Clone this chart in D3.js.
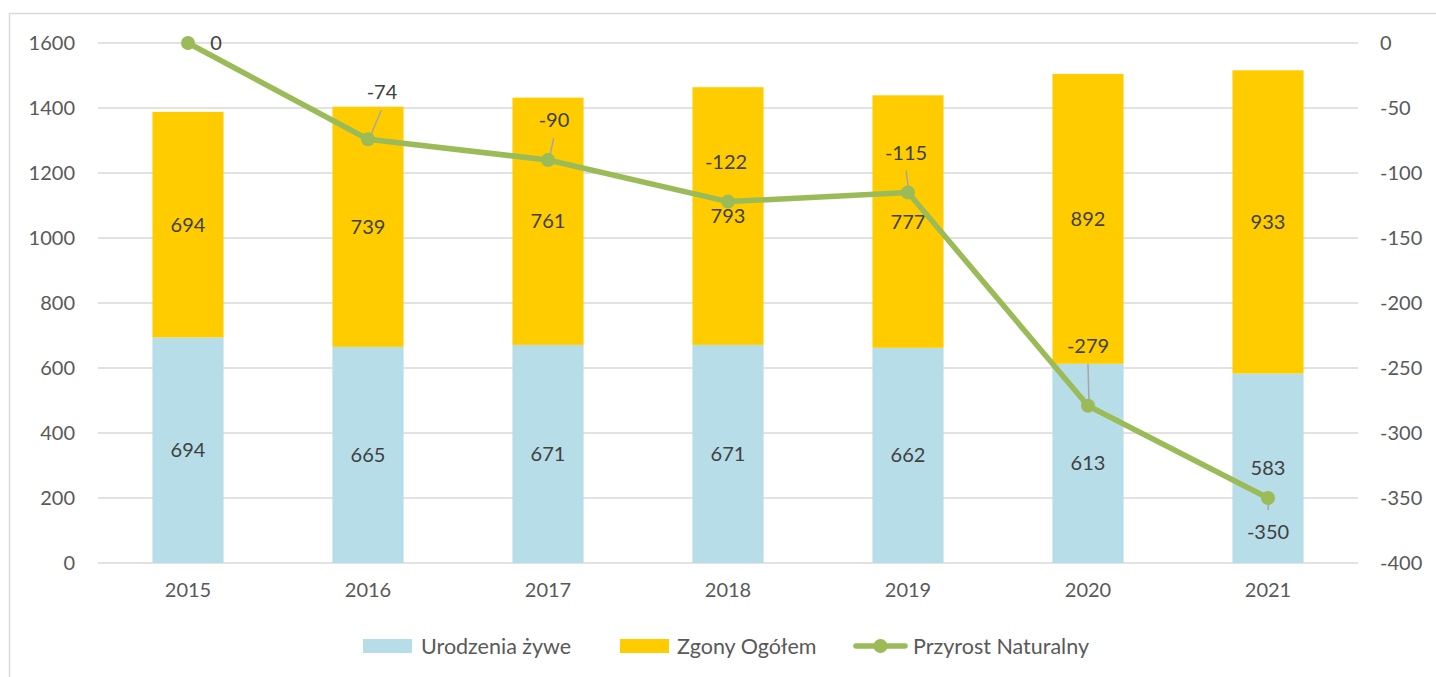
<!DOCTYPE html>
<html>
<head>
<meta charset="utf-8">
<script src="https://cdn.jsdelivr.net/npm/d3@7"></script>
<style>
  body { margin: 0; background: #fff; }
  svg text { font-family: Lato, 'Open Sans', sans-serif; }
</style>
</head>
<body>
<div id="chart"></div>
<script>
const years = ['2015', '2016', '2017', '2018', '2019', '2020', '2021']
const births = [694, 665, 671, 671, 662, 613, 583]
const deaths = [694, 739, 761, 793, 777, 892, 933]
const growth = [0, -74, -90, -122, -115, -279, -350]
const leftTicks = [0, 200, 400, 600, 800, 1000, 1200, 1400, 1600]
const rightTicks = [0, -50, -100, -150, -200, -250, -300, -350, -400]
const seriesNames = ['Urodzenia żywe', 'Zgony Ogółem', 'Przyrost Naturalny']

// label offsets for the line labels (dx, dy from point), Excel-style placement
const growthLabelPos = [
  { dx: 28, dy: 0, lead: false },
  { dx: 14, dy: -47, lead: true },
  { dx: 6, dy: -40, lead: true },
  { dx: -2, dy: -40, lead: false },
  { dx: -2, dy: -40, lead: true },
  { dx: 0, dy: -60, lead: true },
  { dx: 0, dy: 34, lead: true }
]

const W = 1436
const H = 677
const margin = { top: 43, right: 78, bottom: 114, left: 98 }
const width = W - margin.left - margin.right
const height = H - margin.top - margin.bottom

const colors = { births: '#B7DDE8', deaths: '#FFCC00', line: '#9BBB59', grid: '#D9D9D9' }
const fmt = d => String(d)

const root = d3.select('#chart').append('svg').attr('width', W).attr('height', H)

root.append('rect')
  .attr('x', 9.5).attr('y', 13.5)
  .attr('width', W + 20).attr('height', H + 20)
  .attr('fill', 'none').attr('stroke', '#D9D9D9').attr('stroke-width', 1.5)

const svg = root.append('g').attr('transform', `translate(${margin.left},${margin.top})`)

const x = d3.scaleBand().domain(years).range([0, width]).paddingInner(0.605).paddingOuter(0.3025)
const yLeft = d3.scaleLinear().domain([0, 1600]).range([height, 0])
const yRight = d3.scaleLinear().domain([-400, 0]).range([height, 0])

// gridlines
svg.append('g')
  .selectAll('line')
  .data(leftTicks)
  .enter()
  .append('line')
  .attr('x1', 0).attr('x2', width)
  .attr('y1', d => yLeft(d)).attr('y2', d => yLeft(d))
  .attr('stroke', colors.grid).attr('stroke-width', 1.5)

// axes
const leftAxis = svg.append('g')
  .call(d3.axisLeft(yLeft).tickValues(leftTicks).tickFormat(fmt).tickSize(0).tickPadding(23))
const rightAxis = svg.append('g').attr('transform', `translate(${width},0)`)
  .call(d3.axisRight(yRight).tickValues(rightTicks).tickFormat(fmt).tickSize(0).tickPadding(22))
const bottomAxis = svg.append('g').attr('transform', `translate(0,${height})`)
  .call(d3.axisBottom(x).tickSize(0).tickPadding(20))
;[leftAxis, rightAxis, bottomAxis].forEach(a => {
  a.select('.domain').remove()
  a.selectAll('text').attr('font-size', 20).attr('fill', '#595959')
    .attr('font-family', 'Lato, sans-serif')
})

// bars
const rows = years.map((yr, i) => ({ year: yr, births: births[i], deaths: deaths[i], growth: growth[i], i }))

svg.selectAll('.bar-b')
  .data(rows)
  .enter()
  .append('rect')
  .attr('x', d => x(d.year))
  .attr('width', x.bandwidth())
  .attr('y', d => yLeft(d.births))
  .attr('height', d => height - yLeft(d.births))
  .attr('fill', colors.births)

svg.selectAll('.bar-d')
  .data(rows)
  .enter()
  .append('rect')
  .attr('x', d => x(d.year))
  .attr('width', x.bandwidth())
  .attr('y', d => yLeft(d.births + d.deaths))
  .attr('height', d => yLeft(d.births) - yLeft(d.births + d.deaths))
  .attr('fill', colors.deaths)

const cx = d => x(d.year) + x.bandwidth() / 2

svg.selectAll('.lab-b')
  .data(rows)
  .enter()
  .append('text')
  .attr('x', cx)
  .attr('y', d => yLeft(d.births / 2))
  .attr('dy', '0.35em')
  .attr('text-anchor', 'middle')
  .attr('font-size', 20)
  .attr('fill', '#404040')
  .text(d => d.births)

svg.selectAll('.lab-d')
  .data(rows)
  .enter()
  .append('text')
  .attr('x', cx)
  .attr('y', d => yLeft(d.births + d.deaths / 2))
  .attr('dy', '0.35em')
  .attr('text-anchor', 'middle')
  .attr('font-size', 20)
  .attr('fill', '#404040')
  .text(d => d.deaths)

// line
const line = d3.line().x(cx).y(d => yRight(d.growth))

svg.append('path')
  .datum(rows)
  .attr('d', line)
  .attr('fill', 'none')
  .attr('stroke', colors.line)
  .attr('stroke-width', 5.5)
  .attr('stroke-linejoin', 'round')

// leader lines
svg.selectAll('.lead')
  .data(rows.filter(d => growthLabelPos[d.i].lead))
  .enter()
  .append('line')
  .attr('x1', d => cx(d) + growthLabelPos[d.i].dx * 0.95)
  .attr('y1', d => yRight(d.growth) + growthLabelPos[d.i].dy + (growthLabelPos[d.i].dy < 0 ? 18 : -22))
  .attr('x2', d => cx(d) + 1)
  .attr('y2', d => yRight(d.growth))
  .attr('stroke', '#A6A6A6')
  .attr('stroke-width', 1.5)

svg.selectAll('.pt')
  .data(rows)
  .enter()
  .append('circle')
  .attr('cx', cx)
  .attr('cy', d => yRight(d.growth))
  .attr('r', 7)
  .attr('fill', colors.line)

svg.selectAll('.lab-g')
  .data(rows)
  .enter()
  .append('text')
  .attr('x', d => cx(d) + growthLabelPos[d.i].dx)
  .attr('y', d => yRight(d.growth) + growthLabelPos[d.i].dy)
  .attr('dy', '0.35em')
  .attr('text-anchor', 'middle')
  .attr('font-size', 20)
  .attr('fill', '#404040')
  .text(d => fmt(d.growth))

// legend
const legend = root.append('g').attr('transform', 'translate(0,646)')
const legendItems = [
  { name: seriesNames[0], type: 'rect', color: colors.births, x: 363, tx: 421 },
  { name: seriesNames[1], type: 'rect', color: colors.deaths, x: 620, tx: 677 },
  { name: seriesNames[2], type: 'line', color: colors.line, x: 856, tx: 913 }
]
legendItems.forEach(item => {
  if (item.type === 'rect') {
    legend.append('rect')
      .attr('x', item.x).attr('y', -7).attr('width', 49).attr('height', 14)
      .attr('fill', item.color)
  } else {
    legend.append('line')
      .attr('x1', item.x).attr('x2', item.x + 49).attr('y1', 0).attr('y2', 0)
      .attr('stroke', item.color).attr('stroke-width', 5.5).attr('stroke-linecap', 'round')
    legend.append('circle').attr('cx', item.x + 24.5).attr('cy', 0).attr('r', 7).attr('fill', item.color)
  }
  legend.append('text')
    .attr('x', item.tx).attr('y', 0).attr('dy', '0.35em')
    .attr('font-size', 21.5).attr('fill', '#595959')
    .text(item.name)
})
</script>
</body>
</html>
